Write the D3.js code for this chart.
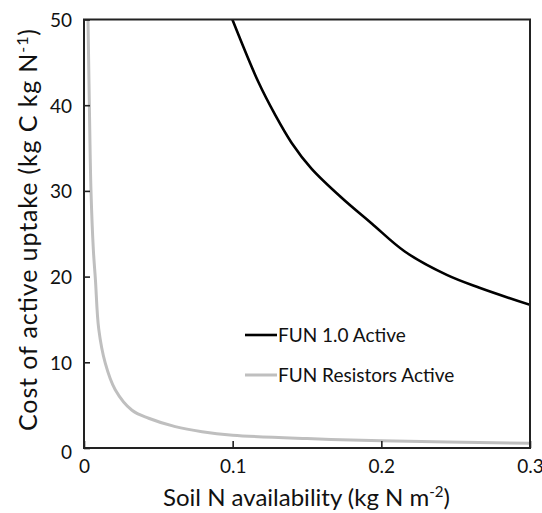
<!DOCTYPE html>
<html><head><meta charset="utf-8">
<script src="https://cdn.jsdelivr.net/npm/d3@7"></script>
<style>body{margin:0;background:#fff}svg{display:block}text{font-family:Lato,"Open Sans",sans-serif;fill:#111}</style>
</head><body><svg id="c" width="542" height="513"></svg>
<script>
const xTicks = [0, 0.1, 0.2, 0.3];
const xTickLabels = ["0", "0.1", "0.2", "0.3"];
const yTicks = [0, 10, 20, 30, 40, 50];
const seriesNames = ["FUN 1.0 Active", "FUN Resistors Active"];
const seriesColors = ["#000000", "#bfbfbf"];
const activeX = [0.0998, 0.1173, 0.1285, 0.1397, 0.153, 0.1733, 0.1935, 0.216, 0.244, 0.266, 0.3];
const activeY = [50, 42.7, 38.9, 35.6, 32.6, 29.2, 26.2, 22.9, 20.2, 18.7, 16.7];
const resistX = [0.0027, 0.0036, 0.0047, 0.0063, 0.0077, 0.0099, 0.0143, 0.021, 0.0323, 0.0435, 0.0614, 0.0794, 0.1, 0.15, 0.2, 0.3];
const resistY = [50, 40, 30, 23.1, 19.6, 13.9, 9.9, 6.8, 4.4, 3.47, 2.49, 1.9, 1.5, 1.1, 0.85, 0.55];

const svg = d3.select("#c");
const L = 84, R = 530, T = 19.5, B = 448;
const x = d3.scaleLinear().domain([0, 0.3]).range([L, R]);
const y = d3.scaleLinear().domain([0, 50]).range([B, T]);

const g = svg.append("g");
const line = d3.line().x(d => x(d[0])).y(d => y(d[1])).curve(d3.curveCatmullRom.alpha(0.5));
svg.append("clipPath").attr("id","pc").append("rect").attr("x",L).attr("y",T).attr("width",R-L).attr("height",B-T);

const series = [d3.zip(resistX, resistY), d3.zip(activeX, activeY)];
g.append("path").datum(series[0]).attr("d", line).attr("fill","none").attr("stroke",seriesColors[1]).attr("stroke-width",3).attr("clip-path","url(#pc)");
g.append("path").datum(series[1]).attr("d", line).attr("fill","none").attr("stroke",seriesColors[0]).attr("stroke-width",2.6).attr("clip-path","url(#pc)");

// axes
const xa = d3.axisBottom(x).tickValues(xTicks).tickFormat((d,i)=>xTickLabels[i]).tickSizeInner(-7).tickSizeOuter(0).tickPadding(12);
const ya = d3.axisLeft(y).tickValues(yTicks).tickSizeInner(-6).tickSizeOuter(0).tickPadding(12);
const gx = svg.append("g").attr("transform",`translate(0,${B})`).call(xa);
const gy = svg.append("g").attr("transform",`translate(${L},0)`).call(ya);
[gx, gy].forEach(a => {
  a.select(".domain").remove();
  a.selectAll(".tick line").attr("stroke","#222").attr("stroke-width",1.6);
  a.selectAll(".tick text").style("font-size","19px").attr("fill","#111");
});
gx.selectAll(".tick text").attr("dy","0.71em");
gy.selectAll(".tick text").attr("dy","0.36em");
gy.selectAll(".tick").filter(d=>d===0).select("text").attr("dy","0.55em");

// frame
svg.append("rect").attr("x",L).attr("y",T).attr("width",R-L).attr("height",B-T).attr("fill","none").attr("stroke","#222").attr("stroke-width",2);

// legend
const lg = svg.append("g");
seriesNames.forEach((n,i) => {
  const yy = 335 + i*40;
  lg.append("line").attr("x1",245).attr("x2",277).attr("y1",yy).attr("y2",yy).attr("stroke",seriesColors[i]).attr("stroke-width",i?3:2.6);
  lg.append("text").attr("x",278).attr("y",yy).attr("dy","0.35em").style("font-size","19px").text(n);
});

// titles
const xt = svg.append("text").attr("x",306.5).attr("y",506).attr("text-anchor","middle").style("font-size","24px");
xt.append("tspan").text("Soil N availability (kg N m");
xt.append("tspan").attr("dy",-9).style("font-size","15px").text("-2");
xt.append("tspan").attr("dy",9).text(")");

const yt = svg.append("text").attr("transform",`translate(37,230) rotate(-90)`).attr("text-anchor","middle").style("font-size","25px")
  .attr("textLength",402).attr("lengthAdjust","spacing");
yt.append("tspan").text("Cost of active uptake (kg C kg N");
yt.append("tspan").attr("dy",-9).style("font-size","16px").text("-1");
yt.append("tspan").attr("dy",9).text(")");
</script></body></html>
